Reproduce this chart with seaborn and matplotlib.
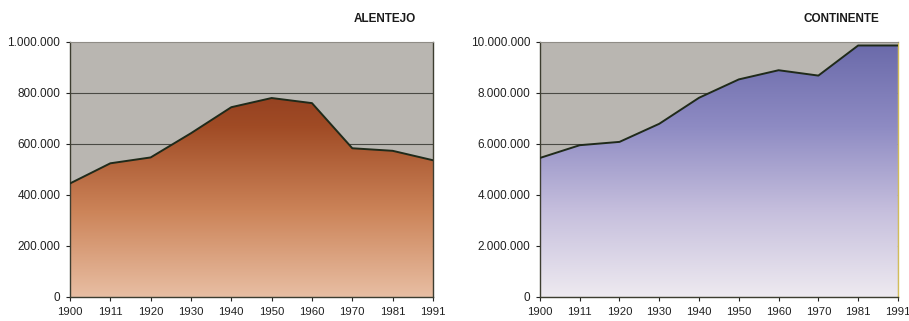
import numpy as np
import pandas as pd
import matplotlib
matplotlib.use("Agg")
import matplotlib.pyplot as plt
from matplotlib.colors import LinearSegmentedColormap
from matplotlib.ticker import FuncFormatter
import seaborn as sns

# Census years (evenly spaced categories) and resident population
years = [1900, 1911, 1920, 1930, 1940, 1950, 1960, 1970, 1981, 1991]
alentejo = [445000, 524000, 547000, 642000, 744000, 780000, 760000, 583000, 573000, 536000]
continente = [5450000, 5950000, 6080000, 6790000, 7810000, 8530000, 8890000, 8680000, 9860000, 9860000]

titles = ["ALENTEJO", "CONTINENTE"]
y_limits = [1000000, 10000000]
y_steps = [200000, 2000000]

sns.set_theme(style="white")
plt.rcParams["font.family"] = ["Liberation Sans", "DejaVu Sans"]

fig = plt.figure(figsize=(9.09, 3.21), dpi=100)
ax_left = fig.add_axes([0.077, 0.075, 0.3993, 0.7944])
ax_right = fig.add_axes([0.594, 0.075, 0.3938, 0.7944])

panel_bg = "#b9b6b1"
grads = [
    LinearSegmentedColormap.from_list("brown", ["#e8bea3", "#cc8459", "#a04b25", "#82301a"]),
    LinearSegmentedColormap.from_list("blue", ["#eeeaf0", "#c6bfdd", "#8e8bc3", "#6969a9"]),
]
right_spine = ["#3d3d30", "#d2bd5a"]


def thousands(v, _pos):
    return f"{int(round(v)):,}".replace(",", ".")


for ax, values, title, ymax, step, cmap, rsp in zip(
    [ax_left, ax_right], [alentejo, continente], titles, y_limits, y_steps, grads, right_spine
):
    df = pd.DataFrame({"pos": np.arange(len(years)), "pop": values})
    ax.set_facecolor(panel_bg)
    ax.set_xlim(0, len(years) - 1)
    ax.set_ylim(0, ymax)

    # horizontal gridlines under the filled area
    for yv in np.arange(step, ymax, step):
        ax.axhline(yv, color="#4a4a44", lw=0.8, zorder=1)

    # vertical gradient clipped to the area under the curve
    poly = ax.fill_between(df["pos"], df["pop"], 0, color="none", zorder=2)
    grad = np.linspace(0, 1, 256).reshape(-1, 1)
    img = ax.imshow(grad, cmap=cmap, origin="lower", aspect="auto",
                    extent=[0, len(years) - 1, 0, ymax], zorder=2)
    path = poly.get_paths()[0]
    img.set_clip_path(path, transform=ax.transData)

    sns.lineplot(data=df, x="pos", y="pop", ax=ax, color="#1f2a1a", lw=1.4, zorder=3)

    ax.set_xticks(df["pos"])
    ax.set_xticklabels([str(y) for y in years])
    ax.set_yticks(np.arange(0, ymax + 1, step))
    ax.yaxis.set_major_formatter(FuncFormatter(thousands))
    ax.set_xlabel("")
    ax.set_ylabel("")
    ax.tick_params(axis="both", which="major", colors="#222222",
                   length=3, width=0.8, direction="out", pad=4,
                   left=True, bottom=True)
    ax.tick_params(axis="y", labelsize=8.5)
    ax.tick_params(axis="x", labelsize=8.2)
    for lbl in ax.get_xticklabels() + ax.get_yticklabels():
        lbl.set_color("#222222")

    for side in ["left", "bottom"]:
        ax.spines[side].set_color("#3d3d30")
        ax.spines[side].set_linewidth(1.0)
    ax.spines["top"].set_color("#8f8c86")
    ax.spines["top"].set_linewidth(0.8)
    ax.spines["right"].set_color(rsp)
    ax.spines["right"].set_linewidth(1.0)

fig.text(416 / 909, 1 - 19 / 321, titles[0], ha="right", va="center",
         fontsize=8.5, fontweight="bold", color="#1a1a1a")
fig.text(879 / 909, 1 - 19 / 321, titles[1], ha="right", va="center",
         fontsize=8.5, fontweight="bold", color="#1a1a1a")

fig.savefig("out.png", dpi=100, facecolor="white")
